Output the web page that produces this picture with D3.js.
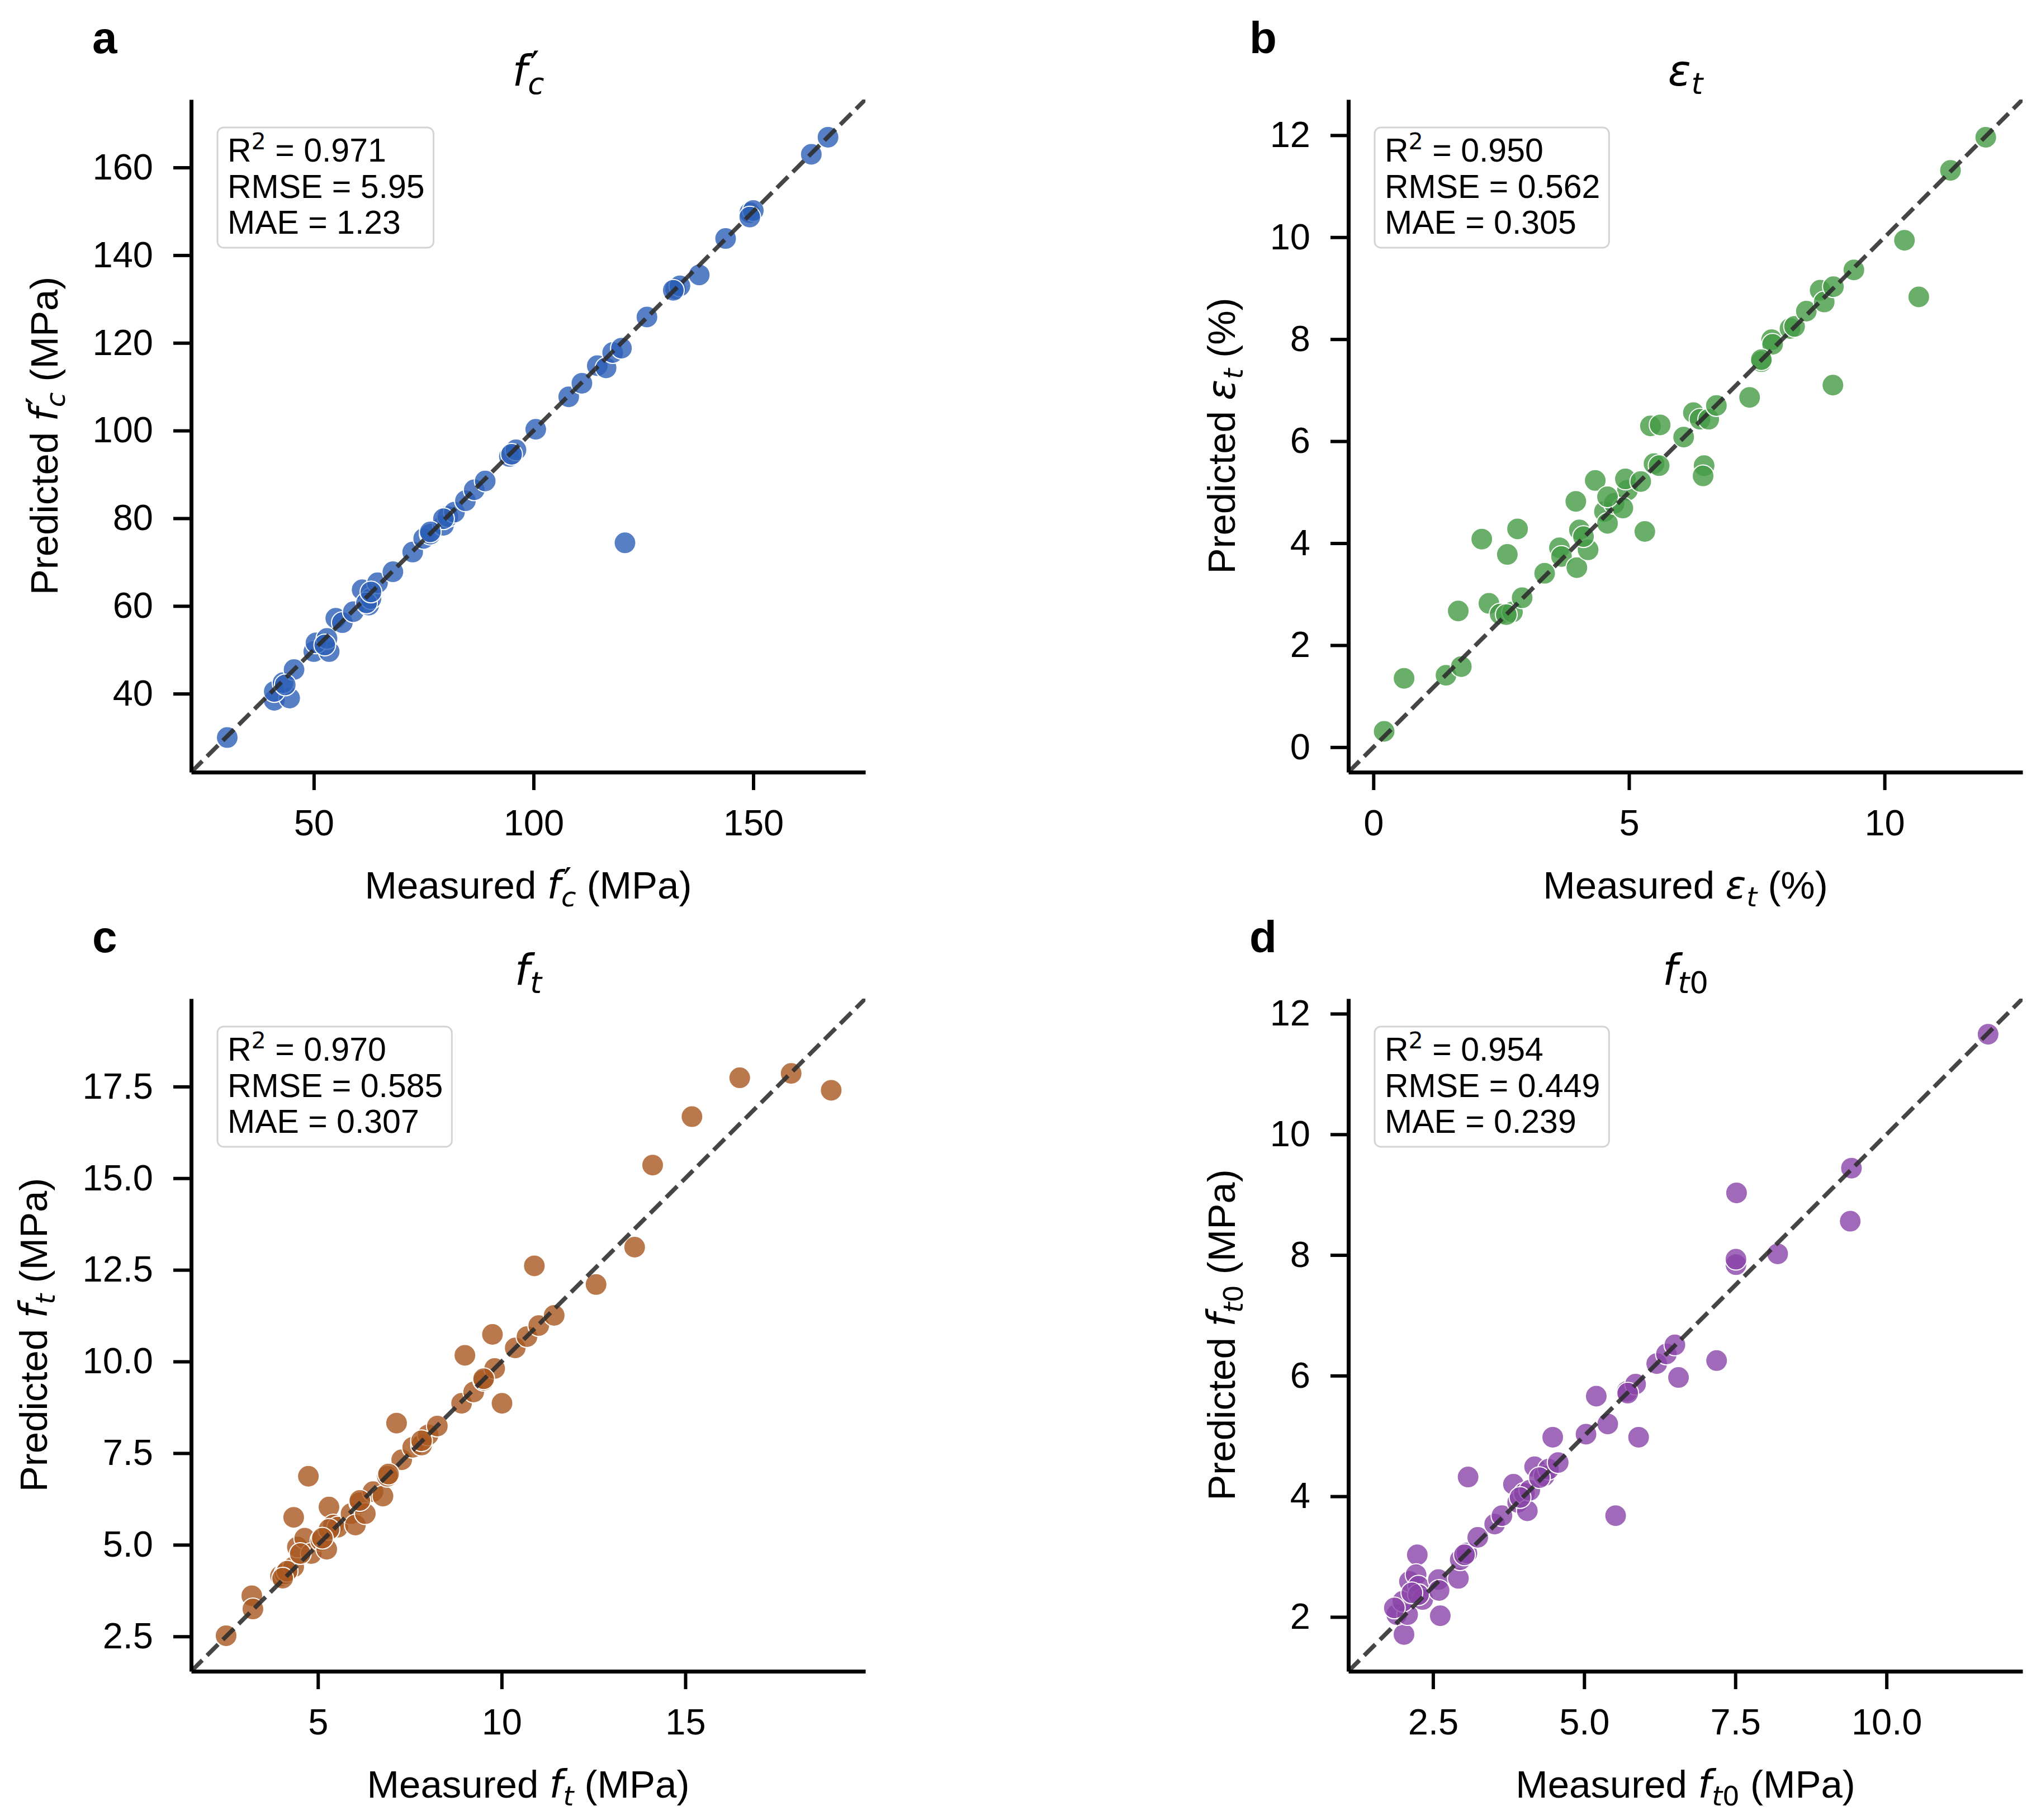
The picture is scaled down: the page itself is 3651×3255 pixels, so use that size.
<!DOCTYPE html>
<html>
<head>
<meta charset="utf-8">
<script src="https://cdn.jsdelivr.net/npm/d3@7"></script>
<style>
    html, body { margin: 0; padding: 0; background: #fff; }
    svg { display: block; font-family: 'Liberation Sans', Arial, sans-serif; }
</style>
</head>
<body>
<svg class="pp-svg"></svg>
<script>

// a: compressive strength f'c (MPa)
const fcMeasured = [30.3, 41, 44.5, 41, 43, 45.5, 50, 53.5, 50.5, 53, 55, 56.5, 59, 61, 62.5, 63, 64.5, 68, 72.5, 75, 76.5, 79.5, 80.5, 82, 84.5, 86.5, 89, 94.5, 96, 100.5, 108, 111, 114.5, 116.5, 118, 120, 120.8, 125.8, 132.3, 133.3, 137.7, 143.7, 149.2, 150, 163.2, 167, 62, 79.5, 95, 131.8, 149.2, 63, 52.5, 76.5, 43.5]
const fcPredicted = [30, 38.5, 39, 40.5, 42.5, 45.5, 49.6, 49.6, 51.6, 52.6, 57.2, 56.2, 58.7, 63.7, 60.2, 61.7, 65.3, 67.8, 72.3, 75.4, 76.4, 78.4, 80.4, 81.4, 84, 86.5, 88.5, 94.1, 95.6, 100.3, 107.7, 110.8, 114.8, 114.3, 117.8, 118.8, 74.4, 125.9, 132.3, 133, 135.5, 143.8, 149.7, 150.2, 163, 166.9, 60.7, 79.9, 94.6, 132, 148.7, 63.2, 51.1, 76.9, 42]
const fcLimits = [22.1, 175.5]
const fcXTicks = [50, 100, 150]
const fcYTicks = [40, 60, 80, 100, 120, 140, 160]
const fcStats = ['0.971', '5.95', '1.23']

// b: tensile strain capacity (%)
const etMeasured = [0.21, 0.60, 1.42, 1.72, 1.66, 2.26, 2.12, 2.62, 2.82, 2.48, 2.72, 2.91, 3.35, 3.64, 3.68, 3.98, 3.96, 4.03, 4.20, 4.11, 4.34, 4.52, 4.58, 4.71, 4.97, 4.93, 5.23, 5.31, 5.42, 5.61, 5.49, 5.59, 6.07, 6.26, 6.39, 6.56, 6.71, 6.47, 6.45, 7.36, 7.59, 7.79, 7.81, 8.15, 8.24, 8.47, 8.74, 8.82, 9.0, 8.99, 9.40, 10.39, 10.67, 11.29, 11.98, 4.88, 4.58, 2.6, 7.59]
const etPredicted = [0.31, 1.35, 1.41, 1.58, 2.67, 2.82, 4.08, 3.78, 4.28, 2.61, 2.65, 2.93, 3.41, 3.91, 3.74, 3.52, 4.82, 4.26, 3.87, 4.13, 5.23, 4.62, 4.39, 4.78, 5.04, 5.26, 5.21, 4.23, 6.30, 6.32, 5.56, 5.52, 6.08, 6.56, 6.43, 6.43, 6.70, 5.52, 5.32, 6.86, 7.56, 7.99, 7.90, 8.21, 8.25, 8.55, 8.96, 8.73, 9.03, 7.10, 9.36, 9.94, 8.83, 11.31, 11.96, 4.69, 4.91, 2.6, 7.6]
const etLimits = [-0.49, 12.7]
const etXTicks = [0, 5, 10]
const etYTicks = [0, 2, 4, 6, 8, 10, 12]
const etStats = ['0.950', '0.562', '0.305']

// c: tensile strength ft (MPa)
const ftMeasured = [2.50, 3.20, 3.23, 3.98, 4.10, 4.34, 4.34, 4.74, 4.44, 4.64, 4.82, 5.08, 5.24, 5.30, 5.42, 5.54, 5.90, 6.02, 6.14, 6.29, 6.50, 6.77, 6.89, 7.14, 7.28, 7.58, 7.82, 8.00, 8.25, 8.91, 9.0, 9.24, 9.51, 9.81, 9.75, 10.01, 10.37, 10.69, 10.89, 11.01, 11.43, 12.57, 13.62, 14.11, 15.18, 16.48, 17.88, 18.97, 4.16, 5.3, 6.14, 9.51, 7.82, 4.04, 4.52, 5.12, 6.92]
const ftPredicted = [2.52, 3.61, 3.25, 4.15, 4.21, 4.40, 5.75, 6.87, 4.94, 5.18, 4.76, 5.12, 4.88, 6.03, 5.54, 5.48, 5.85, 5.54, 6.15, 5.85, 6.45, 6.33, 6.87, 8.32, 7.32, 7.66, 7.72, 8.0, 8.24, 8.86, 10.17, 9.17, 9.49, 9.81, 10.74, 8.86, 10.37, 10.68, 12.61, 10.98, 11.26, 12.1, 13.12, 15.36, 16.68, 17.74, 17.86, 17.40, 4.28, 5.42, 6.21, 9.53, 7.84, 4.09, 4.76, 5.18, 6.93]
const ftLimits = [1.55, 19.9]
const ftXTicks = [5, 10, 15]
const ftYTicks = [2.5, 5, 7.5, 10, 12.5, 15, 17.5]
const ftStats = ['0.970', '0.585', '0.307']

// d: first cracking strength ft0 (MPa)
const ft0Measured = [2.02, 1.90, 2.08, 2.0, 2.11, 2.24, 2.22, 2.26, 2.33, 2.62, 2.59, 2.60, 2.92, 2.95, 3.08, 3.06, 3.24, 3.52, 3.64, 3.83, 3.90, 4.01, 4.06, 4.10, 4.18, 4.34, 4.41, 4.48, 4.57, 5.03, 5.20, 5.39, 5.52, 5.71, 5.85, 5.90, 6.20, 6.36, 6.50, 6.56, 7.19, 7.51, 7.51, 7.52, 8.20, 9.42, 9.40, 11.68, 1.86, 2.26, 3.02, 3.94, 4.26, 5.72, 2.15]
const ft0Predicted = [1.71, 2.04, 2.04, 2.26, 2.59, 3.03, 2.70, 2.51, 2.29, 2.02, 2.62, 2.44, 2.64, 2.95, 4.32, 3.06, 3.32, 3.54, 3.68, 4.20, 3.90, 4.05, 3.76, 4.10, 4.49, 4.34, 4.45, 4.98, 4.56, 5.03, 5.66, 5.20, 3.68, 5.74, 5.86, 4.98, 6.20, 6.36, 6.51, 5.97, 6.25, 7.84, 7.93, 9.03, 8.02, 9.44, 8.56, 11.66, 2.15, 2.37, 3.03, 3.98, 4.31, 5.71, 2.40]
const ft0Limits = [1.1, 12.25]
const ft0XTicks = [2.5, 5, 7.5, 10]
const ft0YTicks = [2, 4, 6, 8, 10, 12]
const ft0Stats = ['0.954', '0.449', '0.239']

const width = 3651
const height = 3255

const plotW = 1206
const plotH = 1203
const origin = { left: 342, top: 178 }
const colStep = 2070
const rowStep = 1608

const tickFont = 65
const labelFont = 69
const titleFont = 76
const statFont = 59
const mathFamily = "'DejaVu Sans', sans-serif"

const fcSym = { base: 'f', sup: '\u2032', sub: [['c', false]] }
const etSym = { base: '\u03b5', sub: [['t', false]] }
const ftSym = { base: 'f', sub: [['t', false]] }
const ft0Sym = { base: 'f', sub: [['t', false], ['0', true]] }

const panels = [
    { tag: 'a', col: 0, row: 0, xs: fcMeasured, ys: fcPredicted, lims: fcLimits, xTicks: fcXTicks, yTicks: fcYTicks, xFmt: d3.format('d'), yFmt: d3.format('d'), stats: fcStats, sym: fcSym, unit: '(MPa)', colour: '#2c5fb6' },
    { tag: 'b', col: 1, row: 0, xs: etMeasured, ys: etPredicted, lims: etLimits, xTicks: etXTicks, yTicks: etYTicks, xFmt: d3.format('d'), yFmt: d3.format('d'), stats: etStats, sym: etSym, unit: '(%)', colour: '#449a44' },
    { tag: 'c', col: 0, row: 1, xs: ftMeasured, ys: ftPredicted, lims: ftLimits, xTicks: ftXTicks, yTicks: ftYTicks, xFmt: d3.format('d'), yFmt: d3.format('.1f'), stats: ftStats, sym: ftSym, unit: '(MPa)', colour: '#a9571f' },
    { tag: 'd', col: 1, row: 1, xs: ft0Measured, ys: ft0Predicted, lims: ft0Limits, xTicks: ft0XTicks, yTicks: ft0YTicks, xFmt: d3.format('.1f'), yFmt: d3.format('d'), stats: ft0Stats, sym: ft0Sym, unit: '(MPa)', colour: '#8a43a8' }
]

// mathtext-ish rendering: italic symbol with stacked super/subscript
const addMath = (textSel, parts, size) => {
    let shift = 0
    const span = (txt, opts = {}) => {
        const t = textSel.append('tspan').text(txt)
        const target = opts.shift || 0
        if (target !== shift) {
            t.attr('dy', target - shift)
            shift = target
        }
        if (opts.dx) t.attr('dx', opts.dx)
        if (opts.math) {
            t.attr('font-family', mathFamily)
                .attr('font-style', opts.upright ? 'normal' : 'italic')
        }
        if (opts.fs) t.attr('font-size', opts.fs)
        return t
    }
    parts.forEach(p => {
        if (typeof p === 'string') {
            span(p)
            return
        }
        span(p.base, { math: true })
        if (p.sup) span(p.sup, { math: true, upright: true, fs: size * 0.95, shift: -size * 0.12, dx: size * 0.07 })
        if (p.sub) {
            p.sub.forEach(([s, upright], i) => {
                const dx = i > 0 ? 0 : (p.sup ? -size * 0.27 : size * 0.01)
                span(s, { math: true, upright, fs: size * 0.7, shift: size * 0.2, dx })
            })
        }
    })
}

const svg = d3.select('.pp-svg')
    .attr('width', width)
    .attr('height', height)

svg.append('rect')
    .attr('width', width)
    .attr('height', height)
    .attr('fill', '#fff')

panels.forEach(p => {

    const left = origin.left + p.col * colStep
    const top = origin.top + p.row * rowStep

    const g = svg.append('g')
        .attr('transform', `translate(${left}, ${top})`)

    const x = d3.scaleLinear()
        .domain(p.lims)
        .range([ 0, plotW ])

    const y = d3.scaleLinear()
        .domain(p.lims)
        .range([ plotH, 0 ])

    const clipId = `clip-${p.tag}`
    g.append('clipPath')
        .attr('id', clipId)
        .append('rect')
        .attr('width', plotW)
        .attr('height', plotH)

    const plot = g.append('g')
        .attr('clip-path', `url(#${clipId})`)

    plot.selectAll('circle')
        .data(p.xs.map((d, i) => [ d, p.ys[i] ]))
        .enter()
        .append('circle')
        .attr('cx', d => x(d[0]))
        .attr('cy', d => y(d[1]))
        .attr('r', 19.5)
        .attr('fill', p.colour)
        .attr('fill-opacity', 0.8)
        .attr('stroke', '#fff')
        .attr('stroke-width', 2)

    plot.append('line')
        .attr('x1', x(p.lims[0]))
        .attr('y1', y(p.lims[0]))
        .attr('x2', x(p.lims[1]))
        .attr('y2', y(p.lims[1]))
        .attr('stroke', '#2b2b2b')
        .attr('stroke-opacity', 0.88)
        .attr('stroke-width', 7.5)
        .attr('stroke-dasharray', '28 12')

    // axes
    const xAxis = g.append('g')
        .attr('transform', `translate(0, ${plotH})`)
        .call(d3.axisBottom(x).tickValues(p.xTicks).tickFormat(p.xFmt).tickSize(32).tickPadding(35).tickSizeOuter(0))

    const yAxis = g.append('g')
        .call(d3.axisLeft(y).tickValues(p.yTicks).tickFormat(p.yFmt).tickSize(32).tickPadding(36).tickSizeOuter(0))

    ;[xAxis, yAxis].forEach(ax => {
        ax.attr('font-size', tickFont)
            .attr('font-family', "'Liberation Sans', Arial, sans-serif")
        ax.select('.domain')
            .attr('stroke-width', 7)
        ax.selectAll('.tick line')
            .attr('stroke-width', 6)
        ax.selectAll('.tick text')
            .attr('fill', '#000')
    })

    // stats box
    const box = g.append('g')
    const lines = [
        [ 'R', '2', ` = ${p.stats[0]}` ],
        [ `RMSE = ${p.stats[1]}` ],
        [ `MAE = ${p.stats[2]}` ]
    ]
    const rect = box.append('rect')
    const texts = lines.map((parts, i) => {
        const t = box.append('text')
            .attr('x', 65)
            .attr('y', 111 + i * 64.5)
            .attr('font-size', statFont)
        if (parts.length === 3) {
            t.append('tspan').text(parts[0])
            t.append('tspan').attr('dy', -statFont * 0.38).attr('font-size', statFont * 0.7)
                .attr('font-family', mathFamily).text(parts[1])
            t.append('tspan').attr('dy', statFont * 0.38).text(parts[2])
        } else {
            t.text(parts[0])
        }
        return t
    })
    const textW = d3.max(texts, t => t.node().getBBox().width)
    rect.attr('x', 47)
        .attr('y', 50)
        .attr('width', textW + 34)
        .attr('height', 215)
        .attr('rx', 11)
        .attr('fill', '#fff')
        .attr('fill-opacity', 0.8)
        .attr('stroke', '#d4d4d4')
        .attr('stroke-width', 3)

    // title
    const title = g.append('text')
        .attr('x', plotW / 2)
        .attr('y', -25)
        .attr('text-anchor', 'middle')
        .attr('font-size', titleFont)
    addMath(title, [ p.sym ], titleFont)

    // x label
    const xl = g.append('text')
        .attr('x', plotW / 2)
        .attr('y', plotH + 226)
        .attr('text-anchor', 'middle')
        .attr('font-size', labelFont)
    addMath(xl, [ 'Measured ', p.sym, ` ${p.unit}` ], labelFont)

    // y label sits just left of the widest tick label
    const tickMin = d3.min(yAxis.selectAll('.tick text').nodes(), n => n.getBBox().x)
    const yl = g.append('text')
        .attr('transform', `translate(${tickMin - 63}, ${plotH / 2}) rotate(-90)`)
        .attr('text-anchor', 'middle')
        .attr('font-size', labelFont)
    addMath(yl, [ 'Predicted ', p.sym, ` ${p.unit}` ], labelFont)

    // panel letter
    g.append('text')
        .attr('x', -177)
        .attr('y', -83)
        .attr('font-size', 80)
        .attr('font-weight', 'bold')
        .text(p.tag)
})

</script>
</body>
</html>
